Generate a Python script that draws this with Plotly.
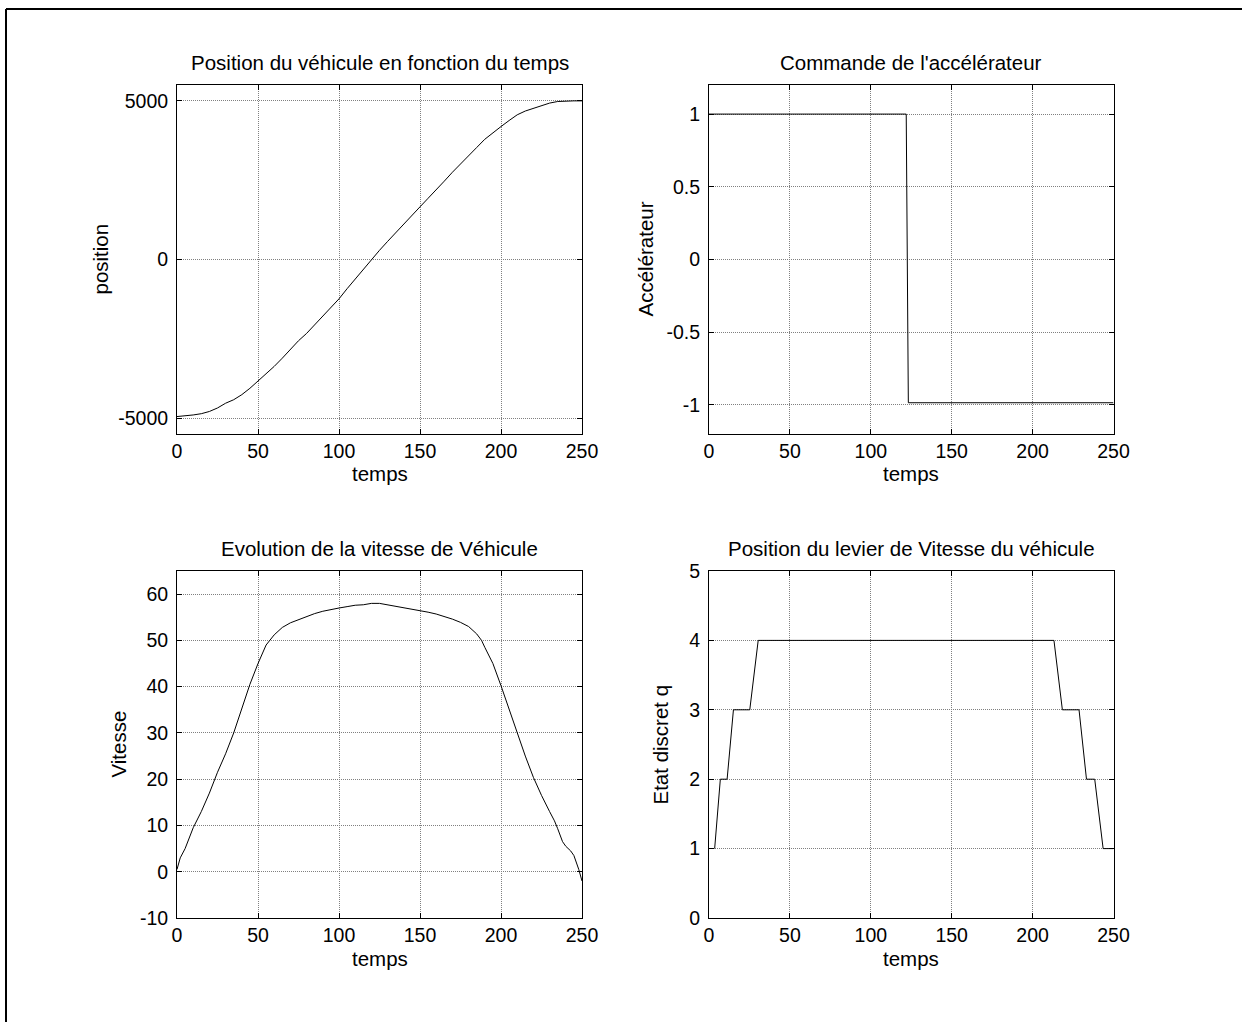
import plotly.graph_objects as go

W, H = 1242, 1022

# ---------------- data ----------------
t_pos = [0, 5, 10, 15, 20, 25, 30, 35, 40, 45, 50, 55, 60, 65, 70, 75, 80, 85, 90, 95,
         100, 105, 110, 115, 120, 125, 130, 135, 140, 145, 150, 155, 160, 165, 170, 175,
         180, 185, 190, 195, 200, 205, 210, 215, 220, 225, 230, 235, 240, 245, 250]
position = [-4950, -4930, -4900, -4860, -4790, -4680, -4530, -4420, -4260, -4060, -3840,
            -3600, -3370, -3110, -2830, -2560, -2330, -2060, -1790, -1510, -1240, -920,
            -610, -330, -20, 290, 570, 850, 1110, 1390, 1660, 1930, 2190, 2470, 2750, 3000,
            3260, 3530, 3790, 4000, 4190, 4380, 4560, 4680, 4770, 4860, 4930, 4980, 5000,
            5000, 5000]

t_acc = [0, 121.9, 123.2, 250]
accel = [1, 1, -0.985, -0.985]

t_vit = [0, 2, 5, 8, 10, 15, 20, 25, 30, 35, 40, 45, 50, 55, 60, 65, 70, 75, 80, 85, 90,
         95, 100, 105, 110, 115, 120, 125, 130, 135, 140, 145, 150, 155, 160, 165, 170,
         175, 180, 185, 188, 190, 195, 200, 205, 210, 215, 220, 225, 230, 233, 235, 238,
         240, 243, 245, 248, 250]
vitesse = [0.5, 3, 5, 7.5, 9.5, 13, 17, 21.5, 25.5, 30, 35.5, 40.5, 45, 49, 51.2, 52.8,
           53.8, 54.5, 55.2, 55.8, 56.3, 56.7, 57, 57.3, 57.6, 57.7, 58, 58, 57.7, 57.4,
           57.1, 56.8, 56.5, 56.1, 55.7, 55.2, 54.6, 53.9, 53, 51.4, 50, 48.5, 45, 40.2,
           35, 29.8, 25, 20.4, 16.5, 13, 11, 9.3, 6.5, 5.5, 4.5, 3.5, 0.5, -2]

t_q = [3.5, 7, 11.2, 15.1, 25.2, 30.4, 213.2, 218.4, 228.7, 233.3, 238.4, 243.6, 250]
q = [1, 2, 2, 3, 3, 4, 4, 3, 3, 2, 2, 1, 1]

titles = ["Position du véhicule en fonction du temps", "Commande de l'accélérateur",
          "Evolution de la vitesse de Véhicule", "Position du levier de Vitesse du véhicule"]
ylabels = ["position", "Accélérateur", "Vitesse", "Etat discret q"]
xlabel = "temps"
x_ticks = [0, 50, 100, 150, 200, 250]
x_ticktext = ["0", "50", "100", "150", "200", "250"]
y_ticks = [[-5000, 0, 5000], [-1, -0.5, 0, 0.5, 1], [-10, 0, 10, 20, 30, 40, 50, 60],
           [0, 1, 2, 3, 4, 5]]
y_ticktext = [["-5000", "0", "5000"], ["-1", "-0.5", "0", "0.5", "1"],
              ["-10", "0", "10", "20", "30", "40", "50", "60"],
              ["0", "1", "2", "3", "4", "5"]]
y_ranges = [[-5500, 5500], [-1.2, 1.2], [-10, 65], [0, 5]]

# ---------------- layout geometry (pixels) ----------------
cols_px = [(177, 582), (709, 1113.5)]
rows_px = [(85, 434), (571, 918)]
ylabel_x = [100, 645, 118, 660]

FONT = "Liberation Sans, Arial, sans-serif"
fs_tick = 19.5
fs_text = 20.5

fig = go.Figure()
series = [(t_pos, position), (t_acc, accel), (t_vit, vitesse), (t_q, q)]
annotations = []
for i, (tx, ty) in enumerate(series):
    r, c = divmod(i, 2)
    n = "" if i == 0 else str(i + 1)
    fig.add_trace(go.Scatter(x=tx, y=ty, mode="lines",
                             line=dict(color="black", width=1),
                             xaxis="x" + n, yaxis="y" + n, showlegend=False))
    x0, x1 = cols_px[c]
    y0, y1 = rows_px[r]
    common = dict(showline=True, linecolor="black", linewidth=1, mirror="ticks",
                  ticks="inside", ticklen=5, tickcolor="black", tickwidth=1,
                  showgrid=True, gridcolor="#808080", griddash="1px,1px", gridwidth=1,
                  zeroline=False, automargin=False,
                  tickfont=dict(family=FONT, size=fs_tick, color="black"))
    fig.update_layout(**{
        "xaxis" + n: dict(domain=[x0 / W, x1 / W], range=[0, 250], tickvals=x_ticks,
                          ticktext=x_ticktext, anchor="y" + n, **common),
        "yaxis" + n: dict(domain=[1 - y1 / H, 1 - y0 / H], range=y_ranges[i],
                          tickvals=y_ticks[i], ticktext=y_ticktext[i],
                          ticklabelstandoff=4, anchor="x" + n, **common),
    })
    cx = (x0 + x1) / 2 / W
    annotations.append(dict(text=titles[i], x=cx, y=1 - (y0 - 23) / H, xref="paper",
                            yref="paper", showarrow=False, xanchor="center",
                            yanchor="middle",
                            font=dict(family=FONT, size=fs_text, color="black")))
    annotations.append(dict(text=xlabel, x=cx, y=1 - (y1 + 40) / H, xref="paper",
                            yref="paper", showarrow=False, xanchor="center",
                            yanchor="middle",
                            font=dict(family=FONT, size=fs_text, color="black")))
    annotations.append(dict(text=ylabels[i], x=ylabel_x[i] / W, y=1 - (y0 + y1) / 2 / H,
                            xref="paper", yref="paper", showarrow=False, textangle=-90,
                            xanchor="center", yanchor="middle",
                            font=dict(family=FONT, size=fs_text, color="black")))

fig.update_layout(
    width=W, height=H, margin=dict(l=0, r=0, t=0, b=0, pad=0, autoexpand=False),
    paper_bgcolor="white", plot_bgcolor="white",
    annotations=annotations,
    shapes=[
        dict(type="line", xref="paper", yref="paper", x0=6 / W, x1=6 / W,
             y0=0, y1=1 - 9 / H, line=dict(color="black", width=2)),
        dict(type="line", xref="paper", yref="paper", x0=6 / W, x1=1,
             y0=1 - 9 / H, y1=1 - 9 / H, line=dict(color="black", width=2)),
    ],
)

fig.write_html("out.html")
